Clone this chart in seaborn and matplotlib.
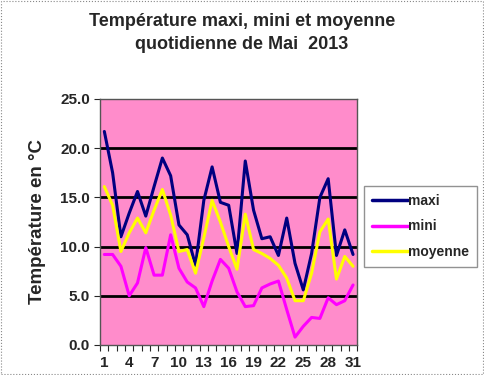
import numpy as np
import pandas as pd
import matplotlib
matplotlib.use('Agg')
import matplotlib.pyplot as plt
import seaborn as sns

days = list(range(1, 32))
maxi = [21.7, 17.5, 11.0, 13.4, 15.6, 13.1, 16.1, 19.0, 17.2, 12.2, 11.2, 8.1, 14.7, 18.1, 14.5,
        14.2, 9.3, 18.7, 13.7, 10.8, 11.0, 9.1, 12.9, 8.3, 5.6, 9.3, 15.0, 16.9, 9.1, 11.7, 9.2]
mini = [9.2, 9.2, 8.0, 5.0, 6.3, 9.9, 7.1, 7.1, 11.2, 7.8, 6.4, 5.8, 3.9, 6.5, 8.7,
        7.8, 5.4, 3.9, 4.0, 5.8, 6.2, 6.5, 3.6, 0.8, 1.9, 2.8, 2.7, 4.8, 4.1, 4.5, 6.1]
moyenne = [16.1, 14.2, 9.5, 11.4, 12.9, 11.4, 13.7, 15.8, 13.2, 9.5, 9.7, 7.3, 10.9, 14.7, 12.5,
           10.0, 7.7, 13.3, 9.7, 9.3, 8.8, 8.1, 6.8, 4.5, 4.5, 7.3, 11.5, 12.8, 6.7, 9.0, 8.0]

df = pd.DataFrame({'jour': days, 'maxi': maxi, 'mini': mini, 'moyenne': moyenne})
long = df.melt(id_vars='jour', var_name='serie', value_name='temp')

sns.set_style('white')
plt.rcParams['font.family'] = ['Liberation Sans', 'DejaVu Sans']

fig = plt.figure(figsize=(4.84, 3.75), dpi=100)
ax = fig.add_axes([0.207, 0.08, 0.531, 0.656])
ax.set_facecolor('#FF8CCB')

for y in [5, 10, 15, 20]:
    ax.axhline(y, color='black', lw=2, zorder=1)

sns.lineplot(data=long, x='jour', y='temp', hue='serie',
             palette={'maxi': '#000080', 'mini': '#FF00FF', 'moyenne': '#FFFF00'},
             lw=2.2, ax=ax, zorder=3)

ax.set_xlim(0.5, 31.5)
ax.set_ylim(0, 25)
ax.set_xticks(range(1, 32, 3))
ax.set_xticks(np.arange(0.5, 32, 1), minor=True)
ax.tick_params(axis='x', which='major', length=0, labelsize=11, pad=8)
ax.tick_params(axis='x', which='minor', length=4, width=0.8, direction='out', bottom=True)
ax.set_yticks(range(0, 26, 5))
ax.set_yticklabels([f'{v:.1f}' for v in range(0, 26, 5)])
ax.tick_params(axis='y', length=4, width=0.8, direction='out', left=True, labelsize=11)
for lab in ax.get_xticklabels() + ax.get_yticklabels():
    lab.set_fontweight('bold')

for s in ax.spines.values():
    s.set_color('#555555')
    s.set_linewidth(1)

ax.set_xlabel('')
ax.set_ylabel('Température en °C', fontsize=13.5, fontweight='bold', labelpad=10)

fig.suptitle('Température maxi, mini et moyenne\nquotidienne de Mai  2013',
             fontsize=13, fontweight='bold', y=0.965, linespacing=1.45)

leg = ax.legend(loc='upper left', bbox_to_anchor=(364 / 484, 1 - 186 / 375),
                bbox_transform=fig.transFigure, frameon=True,
                fancybox=False, fontsize=10, handlelength=2.6, handletextpad=0.05,
                labelspacing=0.85, borderpad=0.55, borderaxespad=0)
leg.get_frame().set_edgecolor('#777777')
leg.get_frame().set_linewidth(1)
for t in leg.get_texts():
    t.set_fontweight('bold')
for l in leg.get_lines():
    l.set_linewidth(2.5)

border = plt.Rectangle((0.002, 0.002), 0.995, 0.995, transform=fig.transFigure,
                       fill=False, edgecolor='#888888', lw=0.8, ls=':')
fig.patches.append(border)

fig.savefig('out.png', dpi=100)
